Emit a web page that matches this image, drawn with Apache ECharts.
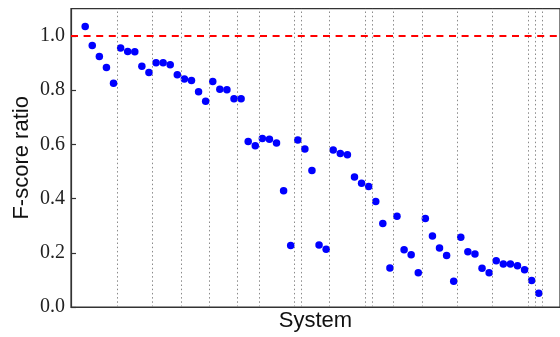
<!DOCTYPE html>
<html>
<head>
<meta charset="utf-8">
<script src="https://cdn.jsdelivr.net/npm/echarts@6/dist/echarts.min.js"></script>
<style>
html,body{margin:0;padding:0;background:#fff;}
#chart{width:560px;height:337px;}
</style>
</head>
<body>
<div id="chart"></div>
<script>
// F-score ratio per system (in order along x)
var fscoreRatio = [1.034,0.964,0.924,0.883,0.825,0.955,0.942,0.941,0.888,0.865,
  0.901,0.901,0.893,0.856,0.841,0.835,0.794,0.759,0.832,0.803,
  0.801,0.768,0.768,0.610,0.595,0.621,0.619,0.605,0.429,0.227,
  0.616,0.583,0.503,0.229,0.213,0.579,0.566,0.561,0.479,0.456,
  0.444,0.389,0.308,0.144,0.335,0.211,0.193,0.126,0.326,0.262,
  0.218,0.190,0.095,0.257,0.204,0.195,0.143,0.126,0.171,0.159,
  0.159,0.152,0.137,0.098,0.051];
// group separators (between systems)
var separators = [4.5,9.5,13.5,17.5,21.5,24.5,29.5,30.5,34.5,39.5,40.5,43.5,47.5,52.5,57.5,62.5,63.5,64.5];
// reference line
var referenceValue = 1.0;
var yTickLabels = ['0.0','0.2','0.4','0.6','0.8','1.0'];
var xName = 'System';
var yName = 'F-score ratio';

var points = fscoreRatio.map(function(v, i){ return [i, v]; });

var chart = echarts.init(document.getElementById('chart'), null, {renderer:'canvas'});
chart.setOption({
  animation: false,
  backgroundColor: '#fff',
  grid: {left: 71, top: 8.7, width: 496, height: 302.3, show: true, borderColor: '#333', borderWidth: 1.2, backgroundColor: 'transparent', containLabel: false},
  xAxis: {
    type: 'value', min: -2, max: 67,
    name: xName, nameLocation: 'middle', nameGap: 3, nameMoveOverlap: false,
    nameTextStyle: {fontFamily: 'Liberation Sans', fontSize: 22, color: '#111', verticalAlign: 'top'},
    axisLine: {show: true, onZero: false, lineStyle: {color: '#333', width: 1.2}},
    axisTick: {show: false}, axisLabel: {show: false}, splitLine: {show: false}
  },
  yAxis: {
    type: 'value', min: 0, max: 1.1, interval: 0.2,
    name: yName, nameLocation: 'middle', nameGap: 38, nameMoveOverlap: false,
    nameTextStyle: {fontFamily: 'Liberation Sans', fontSize: 22, color: '#111'},
    axisLine: {show: true, onZero: false, lineStyle: {color: '#333', width: 1.2}},
    axisTick: {show: true, inside: true, length: 5, lineStyle: {color: '#333', width: 1.2}},
    axisLabel: {
      margin: 6, fontFamily: 'Liberation Serif', fontSize: 20, color: '#222', showMaxLabel: false,
      formatter: function(v){ var k = Math.round(v / 0.2); return yTickLabels[k] !== undefined && Math.abs(v - k*0.2) < 1e-6 ? yTickLabels[k] : ''; }
    },
    splitLine: {show: false}
  },
  series: [
    {
      type: 'scatter', data: [], z: 1, silent: true,
      markLine: {
        silent: true, symbol: 'none', label: {show: false}, animation: false,
        lineStyle: {color: '#8a8a8a', width: 1, type: [1.5, 2.7]},
        emphasis: {disabled: true},
        data: separators.map(function(s){ return {xAxis: s}; })
      }
    },
    {
      type: 'scatter', data: [], z: 2, silent: true,
      markLine: {
        silent: true, symbol: 'none', label: {show: false}, animation: false,
        lineStyle: {color: '#ff0000', width: 2, type: [7, 5.6]},
        emphasis: {disabled: true},
        data: [{yAxis: referenceValue}]
      }
    },
    {
      type: 'scatter', data: points, z: 3, symbol: 'circle', symbolSize: 7.5,
      itemStyle: {color: '#0000ff', opacity: 1}
    }
  ]
});
</script>
</body>
</html>
